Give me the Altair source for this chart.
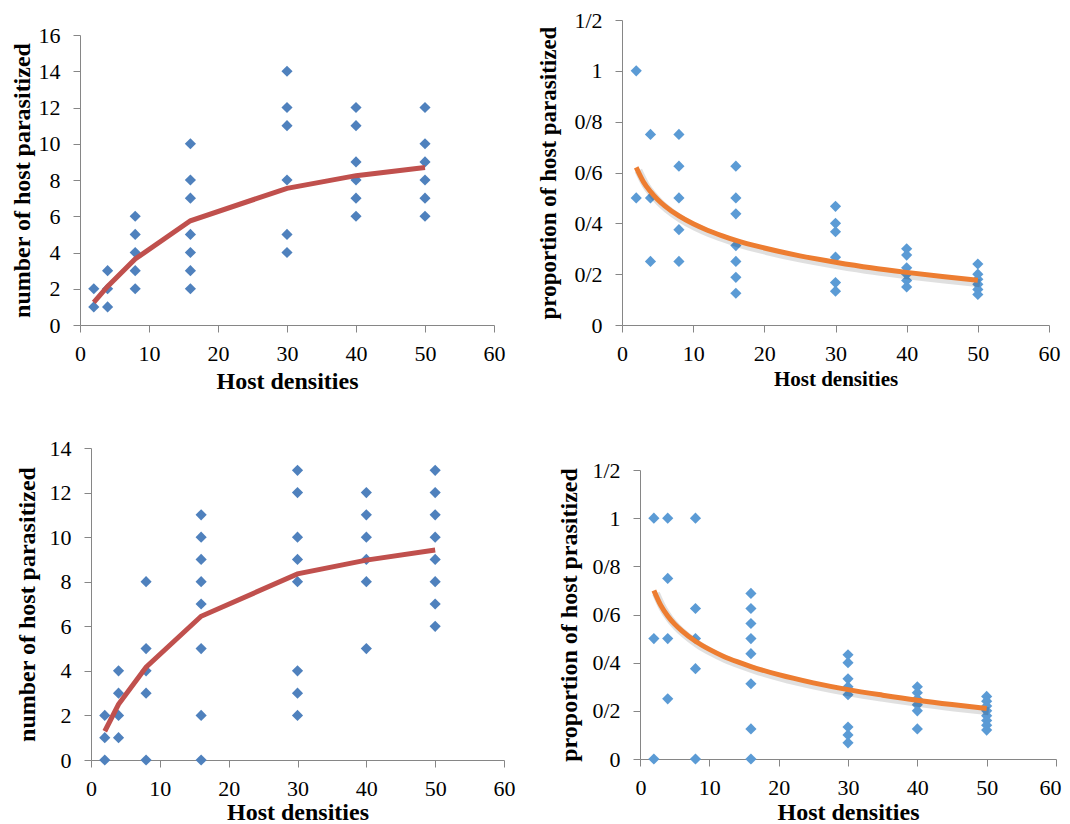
import altair as alt
import pandas as pd

# ---------------- data ----------------
# top-left: number of host parasitized
tl_density = [2, 2, 4, 4, 4, 8, 8, 8, 8, 8, 16, 16, 16, 16, 16, 16, 16,
              30, 30, 30, 30, 30, 30, 40, 40, 40, 40, 40, 40, 50, 50, 50, 50, 50, 50]
tl_count = [2, 1, 3, 2, 1, 6, 5, 4, 3, 2, 10, 8, 7, 5, 4, 3, 2,
            14, 12, 11, 8, 5, 4, 12, 11, 9, 8, 7, 6, 12, 10, 9, 8, 7, 6]
tl_fit_density = [2, 4, 8, 16, 30, 40, 50]
tl_fit_count = [1.25, 2.13, 3.64, 5.75, 7.54, 8.24, 8.69]

# top-right: proportion of host parasitized
tr_density = tl_density
tr_prop = [1.0, 0.5, 0.75, 0.5, 0.25, 0.75, 0.625, 0.5, 0.375, 0.25,
           0.625, 0.5, 0.4375, 0.3125, 0.25, 0.1875, 0.125,
           0.467, 0.4, 0.367, 0.267, 0.167, 0.133,
           0.3, 0.275, 0.225, 0.2, 0.175, 0.15,
           0.24, 0.2, 0.18, 0.16, 0.14, 0.12]
curve_density = [2, 3, 4, 5, 6, 8, 10, 12, 14, 16, 20, 25, 30, 35, 40, 45, 50]
tr_curve = [0.620, 0.564, 0.525, 0.494, 0.469, 0.429, 0.398, 0.373, 0.352,
            0.333, 0.303, 0.272, 0.247, 0.225, 0.207, 0.191, 0.176]

# bottom-left: number of host parasitized
bl_density = [2, 2, 2, 4, 4, 4, 4, 8, 8, 8, 8, 8,
              16, 16, 16, 16, 16, 16, 16, 16,
              30, 30, 30, 30, 30, 30, 30, 30,
              40, 40, 40, 40, 40, 40,
              50, 50, 50, 50, 50, 50, 50, 50]
bl_count = [2, 1, 0, 4, 3, 2, 1, 8, 5, 4, 3, 0,
            11, 10, 9, 8, 7, 5, 2, 0,
            13, 12, 10, 9, 8, 4, 3, 2,
            12, 11, 10, 9, 8, 5,
            13, 12, 11, 10, 9, 8, 7, 6]
bl_fit_density = [2, 4, 8, 16, 30, 40, 50]
bl_fit_count = [1.29, 2.5, 4.16, 6.45, 8.35, 8.97, 9.42]

# bottom-right: proportion of host parasitized
br_density = bl_density
br_prop = [1.0, 0.5, 0.0, 1.0, 0.75, 0.5, 0.25, 1.0, 0.625, 0.5, 0.375, 0.0,
           0.6875, 0.625, 0.5625, 0.5, 0.4375, 0.3125, 0.125, 0.0,
           0.433, 0.4, 0.333, 0.3, 0.267, 0.133, 0.1, 0.067,
           0.3, 0.275, 0.25, 0.225, 0.2, 0.125,
           0.26, 0.24, 0.22, 0.2, 0.18, 0.16, 0.14, 0.12]
br_curve = [0.700, 0.638, 0.594, 0.560, 0.533, 0.489, 0.455, 0.427, 0.404,
            0.384, 0.350, 0.316, 0.288, 0.265, 0.244, 0.226, 0.210]

x_ticks = [0, 10, 20, 30, 40, 50, 60]
prop_ticks = [0, 0.2, 0.4, 0.6, 0.8, 1.0, 1.2]

FONT = "Liberation Serif"
AXC = "#868686"
PROP_LABELS = ("datum.value == 0 ? '0' : (abs(datum.value - 1) < 1e-9 ? '1' : "
               "replace(format(datum.value, '.1f'), '.', '/'))")


def base_axis(**extra):
    kw = dict(grid=False, domainColor=AXC, tickColor=AXC, domainWidth=1, tickWidth=1,
              tickSize=7, labelFont=FONT, labelFontSize=22, labelColor="black",
              titleFont=FONT, titleFontWeight="bold", titleColor="black",
              labelOverlap=False)
    kw.update(extra)
    return alt.Axis(**kw)


def panel(dens, vals, fdens, fvals, ymax, yvalues, ytitle, pcolor, lcolor,
          w, h, ox, oy, box_w, box_h, tx, ty, xts, yts, prop, flush=False):
    pts = pd.DataFrame({"d": dens, "v": vals})
    fit = pd.DataFrame({"d": fdens, "v": fvals})
    # plot rectangle sits at (ox, oy) inside the panel's group
    xs = alt.Scale(domain=[0, 60], range=[ox, ox + w], nice=False, zero=False)
    ys = alt.Scale(domain=[0, ymax], range=[oy + h, oy], nice=False)
    xax = base_axis(title="Host densities", values=x_ticks, tickCount=len(x_ticks),
                    titleFontSize=xts, titleY=ty, titleBaseline="alphabetic",
                    labelPadding=11, labelFlush=flush, labelFlushOffset=5 if flush else 0)
    ykw = dict(title=ytitle, values=yvalues, tickCount=len(yvalues), titleFontSize=yts,
               titleX=tx, titleBaseline="middle", titlePadding=0, labelPadding=13,
               labelFlush=False, offset=-ox)
    if prop:
        ykw["labelExpr"] = PROP_LABELS
    yax = base_axis(**ykw)

    def X(f):
        return alt.X(f, type="quantitative", scale=xs, axis=xax)

    def Y(f):
        return alt.Y(f, type="quantitative", scale=ys, axis=yax)

    points = alt.Chart(pts).mark_point(shape="diamond", filled=True, size=125,
                                       color=pcolor, opacity=1, strokeWidth=0).encode(
        x=X("d"), y=Y("v"))
    layers = [points]
    if prop:
        shadow = alt.Chart(fit).transform_calculate(
            sd="datum.d + 0.3", sv="datum.v - 0.012"
        ).mark_line(color="#000000", opacity=0.12, strokeWidth=8,
                    interpolate="monotone").encode(x=X("sd"), y=Y("sv"))
        layers.append(shadow)
        line = alt.Chart(fit).mark_line(color=lcolor, strokeWidth=5,
                                        interpolate="monotone").encode(x=X("d"), y=Y("v"))
    else:
        line = alt.Chart(fit).mark_line(color=lcolor, strokeWidth=5).encode(
            x=X("d"), y=Y("v"))
    layers.append(line)

    # two invisible dots fixing the panel's layout box
    one = pd.DataFrame({"k": [0]})
    b1 = alt.Chart(one).mark_rule(color="white", strokeWidth=1).encode(
        x=alt.value(0), x2=alt.value(0.5), y=alt.value(0))
    b2 = alt.Chart(one).mark_rule(color="white", strokeWidth=1).encode(
        x=alt.value(box_w - 0.5), x2=alt.value(box_w), y=alt.value(box_h))
    layers += [b1, b2]
    return alt.layer(*layers).properties(width=ox + w, height=oy + h)


tl = panel(tl_density, tl_count, tl_fit_density, tl_fit_count, 16, list(range(0, 17, 2)),
           "number of host parasitized", "#4F81BD", "#C0504D",
           414, 290, 72, 27, 514, 395, -58, 63, 24, 24, False)
tr = panel(tr_density, tr_prop, curve_density, tr_curve, 1.2, prop_ticks,
           "proportion of host  parasitized", "#5B9BD5", "#ED7D31",
           427, 305, 88, 12, 530, 395, -74, 60, 21, 23, True)
bl = panel(bl_density, bl_count, bl_fit_density, bl_fit_count, 14, list(range(0, 15, 2)),
           "number of host parasitized", "#4F81BD", "#C0504D",
           413, 312, 83, 33, 514, 420, -64, 59, 24, 24, False)
br = panel(br_density, br_prop, curve_density, br_curve, 1.2, prop_ticks,
           "proportion of host prasitized", "#5B9BD5", "#ED7D31",
           416, 289, 106, 55, 530, 420, -71, 60, 24, 24, True, flush=True)

chart = alt.concat(tl, tr, bl, br, columns=2, spacing=10).properties(
    autosize=alt.AutoSizeParams(type="none"),
    padding={"left": 0, "top": 0, "right": 1054, "bottom": 818},
    background="white", align="none", bounds="full"
).configure_view(stroke=None)

chart.save("out.html", embed_options={"renderer": "svg", "actions": False})
